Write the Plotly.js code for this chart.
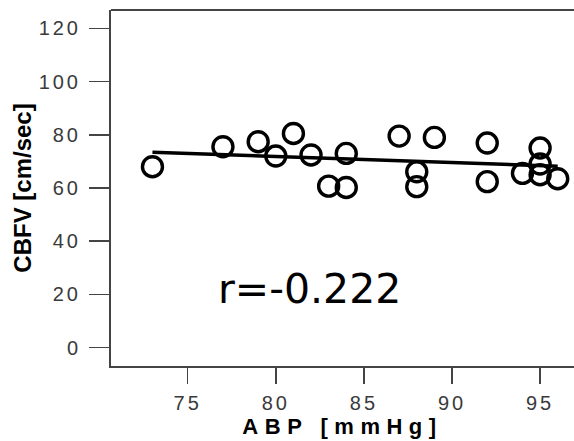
<!DOCTYPE html>
<html>
<head>
<meta charset="utf-8">
<script src="https://cdn.plot.ly/plotly-3.0.1.min.js"></script>
<style>
  html, body { margin: 0; padding: 0; background: #fff; }
  #chart { width: 574px; height: 441px; }
  .xtick text, .ytick text { letter-spacing: 3px; }
  .xtitle { letter-spacing: 6.5px; }
</style>
</head>
<body>
<div id="chart"></div>
<script>
// ABP [mmHg] values
const abp = [73, 77, 79, 80, 81, 82, 83, 84, 84, 87, 88, 88, 89, 92, 92, 94, 95, 95, 95, 96];
// CBFV [cm/sec] values
const cbfv = [68, 75.5, 77.4, 72, 80.5, 72.4, 60.7, 73, 60.2, 79.5, 66.1, 60.5, 79, 76.9, 62.4, 65.5, 75, 69, 65, 63.5];
// regression line end points
const fitX = [73, 96];
const fitY = [73.4, 68.2];
// tick values and labels
const xTickVals = [75, 80, 85, 90, 95];
const xTickText = ['75', '80', '85', '90', '95'];
const yTickVals = [0, 20, 40, 60, 80, 100, 120];
const yTickText = ['0', '20', '40', '60', '80', '100', '120'];
const rLabel = 'r=-0.222';

const traces = [
  {
    x: fitX, y: fitY, type: 'scatter', mode: 'lines',
    line: { color: '#000', width: 3.5 }, hoverinfo: 'skip'
  },
  {
    x: abp, y: cbfv, type: 'scatter', mode: 'markers',
    marker: { symbol: 'circle-open', size: 20, color: '#000', line: { width: 3.4, color: '#000' } }
  }
];

const layout = {
  width: 574, height: 441,
  margin: { l: 111, r: 0, t: 10, b: 75 },
  paper_bgcolor: '#fff', plot_bgcolor: '#fff',
  showlegend: false,
  xaxis: {
    range: [70.647, 96.924],
    tickmode: 'array', tickvals: xTickVals, ticktext: xTickText,
    ticks: 'outside', ticklen: 16, tickwidth: 1.5, tickcolor: '#444',
    showline: true, linecolor: '#444', linewidth: 2,
    showgrid: false, zeroline: false,
    tickfont: { family: 'Liberation Sans, Arial, sans-serif', size: 20, color: '#3a3a3a' },
    ticklabelstandoff: 2,
    title: { text: 'ABP [mmHg]', font: { family: 'Liberation Sans, Arial, sans-serif', size: 22, color: '#000', weight: 'bold' }, standoff: 2 }
  },
  yaxis: {
    range: [-6.87, 126.87],
    tickmode: 'array', tickvals: yTickVals, ticktext: yTickText,
    ticks: 'outside', ticklen: 20, tickwidth: 1.5, tickcolor: '#444',
    showline: true, linecolor: '#444', linewidth: 2,
    showgrid: false, zeroline: false,
    tickfont: { family: 'Liberation Sans, Arial, sans-serif', size: 20, color: '#3a3a3a' },
    ticklabelstandoff: 4,
    title: { text: 'CBFV [cm/sec]', font: { family: 'Liberation Sans, Arial, sans-serif', size: 24, color: '#000', weight: 'bold' }, standoff: 0 }
  },
  shapes: [
    { type: 'line', xref: 'paper', yref: 'paper', x0: 0, x1: 1, y0: 1, y1: 1, line: { color: '#444', width: 2 } }
  ],
  annotations: [
    {
      text: rLabel, x: 81.9, y: 22.05, xref: 'x', yref: 'y',
      xanchor: 'center', yanchor: 'middle', showarrow: false,
      font: { family: 'DejaVu Sans, sans-serif', size: 41, color: '#000' }
    }
  ]
};

Plotly.newPlot('chart', traces, layout, { displayModeBar: false, staticPlot: true });
</script>
</body>
</html>
